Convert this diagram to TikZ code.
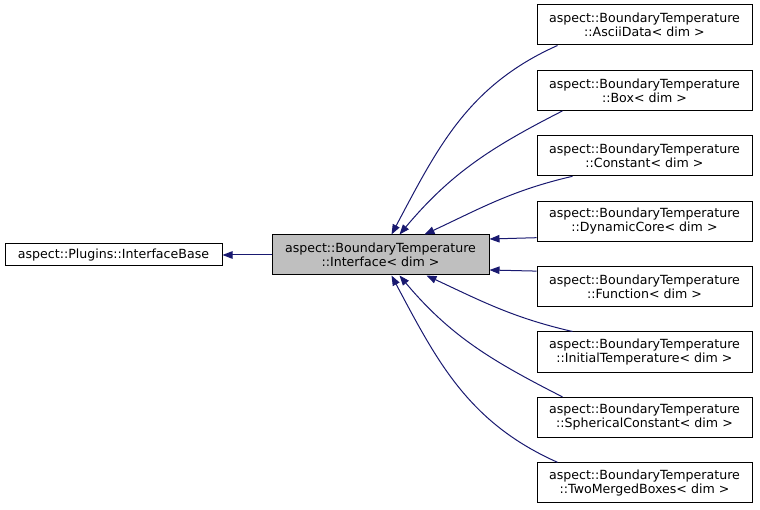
\documentclass[tikz,border=0pt]{standalone}
\usepackage{fontspec}
\setmainfont{DejaVu Sans}
\usetikzlibrary{arrows.meta,calc}
\definecolor{edgeblue}{HTML}{191970}
\definecolor{curgray}{HTML}{BFBFBF}

\begin{document}
\begin{tikzpicture}[x=1pt, y=1pt,
    cls/.style={draw=black, line width=1pt, fill=white, rectangle, inner sep=0pt,
      minimum width=215pt, minimum height=40pt, align=center,
      font=\fontsize{12.6}{14}\selectfont},
    cur/.style={cls, fill=curgray, minimum width=217pt},
    inh/.style={draw=edgeblue, line width=1pt, -{Triangle[length=10pt,width=7.5pt]}}]
        \useasboundingbox (0,0) rectangle (760,509);
        % base classes
        \node[cls, minimum width=217pt, minimum height=22pt] (base) at (113.5,254) {aspect::Plugins::InterfaceBase};
        \node[cur] (iface) at (380.5,254) {aspect::BoundaryTemperature\\::Interface< dim >};
        % derived classes
        \node[cls] (ascii) at (644.5,484) {aspect::BoundaryTemperature\\::AsciiData< dim >};
        \node[cls] (box) at (644.5,418.6) {aspect::BoundaryTemperature\\::Box< dim >};
        \node[cls] (const) at (644.5,353.2) {aspect::BoundaryTemperature\\::Constant< dim >};
        \node[cls] (dyncore) at (644.5,287.8) {aspect::BoundaryTemperature\\::DynamicCore< dim >};
        \node[cls] (func) at (644.5,222.4) {aspect::BoundaryTemperature\\::Function< dim >};
        \node[cls] (inittemp) at (644.5,157) {aspect::BoundaryTemperature\\::InitialTemperature< dim >};
        \node[cls] (sphconst) at (644.5,91.6) {aspect::BoundaryTemperature\\::SphericalConstant< dim >};
        \node[cls] (twomerged) at (644.5,26.2) {aspect::BoundaryTemperature\\::TwoMergedBoxes< dim >};
        % inheritance
        \draw[inh] (iface.west) -- (base.east);
        \draw[inh] ($(ascii.south west)+(21,0)$) to[out=204, in=62] ($(iface.north west)+(120,0)$);
        \draw[inh] ($(box.south west)+(26,0)$) to[out=207, in=50] ($(iface.north west)+(128,0)$);
        \draw[inh] ($(const.south west)+(36,0)$) to[out=193, in=25] ($(iface.north west)+(153,0)$);
        \draw[inh] ($(dyncore.south west)+(0,4)$) -- ($(iface.east)+(0,16)$);
        \draw[inh] ($(func.north west)+(0,-5)$) -- ($(iface.east)+(0,-15)$);
        \draw[inh] ($(inittemp.north west)+(36,0)$) to[out=167, in=-25] ($(iface.south west)+(155,0)$);
        \draw[inh] ($(sphconst.north west)+(26,0)$) to[out=153, in=-50] ($(iface.south west)+(128,0)$);
        \draw[inh] ($(twomerged.north west)+(21,0)$) to[out=156, in=-62] ($(iface.south west)+(120,0)$);
      \end{tikzpicture}
\end{document}
